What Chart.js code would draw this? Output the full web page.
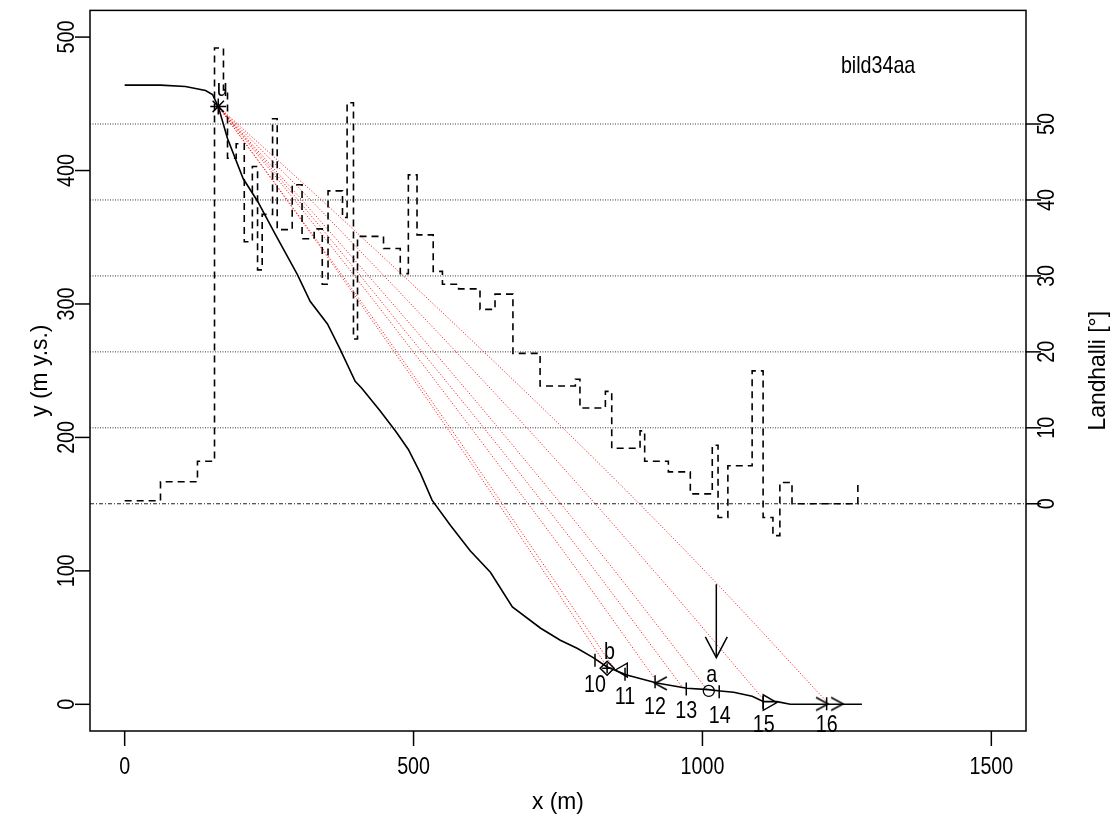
<!DOCTYPE html>
<html>
<head>
<meta charset="utf-8">
<script src="https://cdn.jsdelivr.net/npm/chart.js@4/dist/chart.umd.min.js"></script>
<style>
  html, body { margin: 0; padding: 0; background: #ffffff; }
  #wrap { width: 1119px; height: 825px; }
</style>
</head>
<body>
<div id="wrap"><canvas id="c" width="1119" height="825"></canvas></div>
<script>
// ---- terrain profile (m along slope, m above sea level) ----
const profileX = [0, 62, 105, 140, 152, 162, 178, 205, 230, 261, 299, 321, 351, 373, 399, 410, 442, 470, 491, 512, 532, 564, 598, 633, 671, 720, 754, 783, 811, 835, 869, 921, 973, 1010, 1031, 1054, 1086, 1106, 1129, 1152, 1215, 1276];
const profileY = [464, 464, 463, 460, 457, 448, 424, 394, 377, 352, 322, 302, 285, 266, 242, 237, 220, 204, 191, 173, 153, 134, 115, 99, 73, 57, 48, 42, 35, 28, 22, 16, 12, 11, 10, 9, 6, 2, 2, 0, 0, 0];

// ---- slope angle per segment (degrees), segment starts at stepX ----
const stepX = [0, 62, 126, 155.5, 171, 178, 193, 207, 221, 230, 238, 256, 264, 290, 307, 328, 342, 352, 377, 385, 396, 403, 448, 477, 491, 506, 534, 550, 578, 615, 641, 672, 719, 780, 788, 832, 843, 892, 900, 941, 979, 1017, 1027, 1044, 1086, 1105, 1122, 1134, 1155, 1269];
const stepAngle = [0.4, 2.9, 5.6, 60, 54.5, 45.5, 47.4, 34.5, 44.4, 30.8, 38.1, 50.7, 36.1, 42, 34.9, 36.2, 28.9, 41.2, 37.7, 52.8, 21.7, 35.2, 33.6, 30.3, 43.3, 35.4, 30.6, 28.9, 28.3, 25.6, 27.6, 19.8, 15.5, 16.4, 12.6, 14.8, 7.3, 9.6, 5.6, 4.2, 1.3, 7.7, -1.8, 5, 17.5, -1.8, -4.2, 2.8, 0, 3.0];

// ---- runout lines from release point u to endpoints 10..16 ----
const run10X = [162, 297, 431, 566, 700, 835];
const run10Y = [448, 368, 286, 202, 116, 28];
const run11X = [162, 300, 437, 575, 712, 850];
const run11Y = [448, 367, 285, 200, 113, 25];
const run12X = [162, 314, 466, 617, 769, 921];
const run12Y = [448, 367, 283, 197, 109, 17];
const run13X = [162, 323, 483, 644, 804, 965];
const run13Y = [448, 366, 281, 195, 106, 13];
const run14X = [162, 331, 500, 670, 839, 1008];
const run14Y = [448, 366, 282, 195, 105, 11];
const run15X = [162, 351, 539, 728, 916, 1105];
const run15Y = [448, 365, 280, 192, 100, 4];
const run16X = [162, 373, 583, 794, 1004, 1215];
const run16Y = [448, 365, 280, 192, 100, 2];

// ---- marked points ----
const pointU = [162, 448];
const pointB = [835, 27];
const pointA = [1011, 10];
const endTickX = [814, 866, 918, 972, 1029, 1105, 1215];
const endTickY = [33, 22.6, 17, 11.4, 9.4, 1.5, 0.5];
const endLabels = ['10', '11', '12', '13', '14', '15', '16'];
const triLeftPt = [863, 25.7];
const triRightPt = [1113, 1.3];
const chevLeftPts = [[928, 15.7]];
const chevRightPts = [[1207, 0.3], [1233, 0.3]];

// ---- arrow marking the avalanche stop ----
const arrowShaftX = [1024, 1024];
const arrowShaftY = [90, 35];
const arrowHeadX = [1005, 1024, 1043];
const arrowHeadY = [50.5, 35, 50.5];

// ---- axes ----
const xTicks = [0, 500, 1000, 1500];
const yTicks = [0, 100, 200, 300, 400, 500];
const angleTicks = [0, 10, 20, 30, 40, 50];
const xTitle = 'x (m)';
const yTitle = 'y (m y.s.)';
const y2Title = 'Landhalli [°]';
const plotName = 'bild34aa';

const FONT = "'Liberation Sans', Arial, sans-serif";
const NARROW = 0.82;        // condensed glyph width for tick labels and notes
const NARROW_TITLE = 0.95;  // axis titles

const pts = (xs, ys) => xs.map((x, i) => ({ x: x, y: ys[i] }));

function chevron(dir) {
  const w = 12, h = 13;
  const c = document.createElement('canvas');
  c.width = w + 4; c.height = h + 4;
  const g = c.getContext('2d');
  g.strokeStyle = '#000'; g.lineWidth = 1.5;
  g.beginPath();
  if (dir === 'left') { g.moveTo(w + 2, 2); g.lineTo(2, h / 2 + 2); g.lineTo(w + 2, h + 2); }
  else { g.moveTo(2, 2); g.lineTo(w + 2, h / 2 + 2); g.lineTo(2, h + 2); }
  g.stroke();
  return c;
}

const runLine = (xs, ys) => ({
  type: 'line', data: pts(xs, ys), borderColor: '#ff0000', borderWidth: 1,
  borderDash: [1, 2], pointRadius: 0, tension: 0.35, order: 6
});

const angleLine = (a) => ({
  type: 'line', yAxisID: 'y2',
  data: [{ x: -60, y: a }, { x: 1560, y: a }],
  borderColor: a === 0 ? '#222' : '#333', borderWidth: 1,
  borderDash: a === 0 ? [4, 2, 1, 2] : [1, 1.5],
  pointRadius: 0, order: 8
});

const datasets = [
  { type: 'line', data: pts(profileX, profileY), borderColor: '#000', borderWidth: 1.6, pointRadius: 0, tension: 0, order: 3 },
  { type: 'line', yAxisID: 'y2', data: pts(stepX, stepAngle), stepped: 'before', borderColor: '#000', borderWidth: 1.6, borderDash: [7, 5], pointRadius: 0, order: 4 },
  runLine(run10X, run10Y), runLine(run11X, run11Y), runLine(run12X, run12Y), runLine(run13X, run13Y),
  runLine(run14X, run14Y), runLine(run15X, run15Y), runLine(run16X, run16Y),
  ...angleTicks.map(angleLine),
  { type: 'line', data: pts(arrowShaftX, arrowShaftY), borderColor: '#000', borderWidth: 1.5, pointRadius: 0, order: 1 },
  { type: 'line', data: pts(arrowHeadX, arrowHeadY), borderColor: '#000', borderWidth: 1.5, pointRadius: 0, order: 1 },
  { type: 'scatter', data: [{ x: pointU[0], y: pointU[1] }], pointStyle: 'star', pointRadius: 8, borderColor: '#000', borderWidth: 1.5, backgroundColor: 'rgba(0,0,0,0)', order: 0 },
  { type: 'scatter', data: pts(endTickX, endTickY), pointStyle: 'line', rotation: 90, pointRadius: 6.5, borderColor: '#000', borderWidth: 1.5, order: 0 },
  { type: 'scatter', data: [{ x: pointB[0], y: pointB[1] }], pointStyle: 'rectRot', pointRadius: 7, borderColor: '#000', borderWidth: 1.5, backgroundColor: 'rgba(0,0,0,0)', order: 0 },
  { type: 'scatter', data: [{ x: pointB[0], y: pointB[1] }], pointStyle: 'cross', pointRadius: 5, borderColor: '#000', borderWidth: 1.5, order: 0 },
  { type: 'scatter', data: [{ x: pointA[0], y: pointA[1] }], pointStyle: 'circle', pointRadius: 5.5, borderColor: '#000', borderWidth: 1.3, backgroundColor: 'rgba(0,0,0,0)', order: 0 },
  { type: 'scatter', data: [{ x: triLeftPt[0], y: triLeftPt[1] }], pointStyle: 'triangle', rotation: -90, pointRadius: 8, borderColor: '#000', borderWidth: 1.4, backgroundColor: 'rgba(0,0,0,0)', order: 0 },
  { type: 'scatter', data: [{ x: triRightPt[0], y: triRightPt[1] }], pointStyle: 'triangle', rotation: 90, pointRadius: 9, borderColor: '#000', borderWidth: 1.4, backgroundColor: 'rgba(0,0,0,0)', order: 0 },
  { type: 'scatter', data: chevLeftPts.map(p => ({ x: p[0], y: p[1] })), pointStyle: chevron('left'), order: 0 },
  { type: 'scatter', data: chevRightPts.map(p => ({ x: p[0], y: p[1] })), pointStyle: chevron('right'), order: 0 }
];

// text placed in data coordinates
const notes = [
  { t: 'u', x: 169, y: 461 },
  { t: 'b', x: 839, y: 39 },
  { t: 'a', x: 1016, y: 22 },
  { t: plotName, x: 1304, y: 478 },
  { t: endLabels[0], x: 814, y: 14.5 },
  { t: endLabels[1], x: 866, y: 5.5 },
  { t: endLabels[2], x: 918, y: -2 },
  { t: endLabels[3], x: 972, y: -5 },
  { t: endLabels[4], x: 1030, y: -8.7 },
  { t: endLabels[5], x: 1106, y: -16 },
  { t: endLabels[6], x: 1215, y: -16 }
];

// condensed text: squeeze along the reading direction
function label(ctx, text, x, y, rot, squeeze) {
  ctx.save();
  ctx.translate(x, y);
  if (rot) ctx.rotate(rot);
  ctx.scale(squeeze, 1);
  ctx.fillText(text, 0, 0);
  ctx.restore();
}

const frameAxes = {
  id: 'frameAxes',
  afterDraw(chart) {
    const { ctx, chartArea: a, scales } = chart;
    const sx = scales.x, sy = scales.y, sy2 = scales.y2;
    const up = -Math.PI / 2;
    ctx.save();
    ctx.strokeStyle = '#000';
    ctx.fillStyle = '#000';
    ctx.lineWidth = 1.5;
    ctx.strokeRect(a.left, a.top, a.right - a.left, a.bottom - a.top);
    ctx.font = '24px ' + FONT;
    ctx.textAlign = 'center';
    ctx.textBaseline = 'middle';
    xTicks.forEach(v => {
      const p = sx.getPixelForValue(v);
      ctx.beginPath(); ctx.moveTo(p, a.bottom); ctx.lineTo(p, a.bottom + 15); ctx.stroke();
      label(ctx, String(v), p, 767, 0, NARROW);
    });
    yTicks.forEach(v => {
      const p = sy.getPixelForValue(v);
      ctx.beginPath(); ctx.moveTo(a.left, p); ctx.lineTo(a.left - 15, p); ctx.stroke();
      label(ctx, String(v), 67, p, up, NARROW);
    });
    angleTicks.forEach(v => {
      const p = sy2.getPixelForValue(v);
      ctx.beginPath(); ctx.moveTo(a.right, p); ctx.lineTo(a.right + 15, p); ctx.stroke();
      label(ctx, String(v), 1047, p, up, NARROW);
    });
    const midX = (a.left + a.right) / 2, midY = (a.top + a.bottom) / 2;
    label(ctx, xTitle, midX, 802, 0, NARROW_TITLE);
    label(ctx, yTitle, 40, midY, up, NARROW_TITLE);
    label(ctx, y2Title, 1098, midY, up, NARROW_TITLE);
    notes.forEach(n => label(ctx, n.t, sx.getPixelForValue(n.x), sy.getPixelForValue(n.y), 0, NARROW));
    ctx.restore();
  }
};

new Chart(document.getElementById('c'), {
  type: 'scatter',
  data: { datasets: datasets },
  options: {
    responsive: false,
    animation: false,
    devicePixelRatio: 1,
    layout: { padding: { left: 90, right: 93, top: 8, bottom: 94 } },
    plugins: { legend: { display: false }, tooltip: { enabled: false } },
    elements: { line: { fill: false } },
    scales: {
      x: { type: 'linear', min: -60, max: 1560, display: false },
      y: { type: 'linear', min: -20, max: 520, display: false },
      y2: { type: 'linear', min: -29.92, max: 64.96, display: false, position: 'right' }
    }
  },
  plugins: [frameAxes]
});
</script>
</body>
</html>
